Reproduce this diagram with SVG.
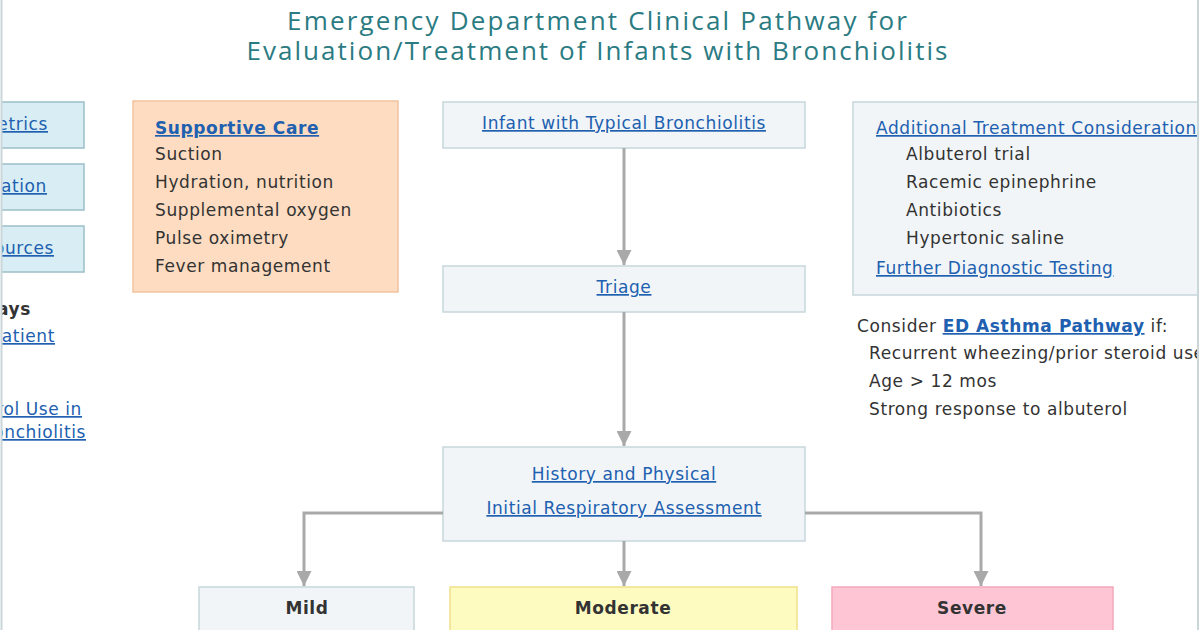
<svg xmlns="http://www.w3.org/2000/svg" width="1200" height="630" viewBox="0 0 1200 630">
<style>
.t{font-family:"DejaVu Sans","Liberation Sans",sans-serif;font-size:17px;letter-spacing:0.6px;fill:#333}
.lk{fill:#2060b0;text-decoration:underline}
.b{font-weight:bold}
.c{text-anchor:middle}
.ttl{font-family:"Open Sans","Liberation Sans",sans-serif;font-size:26px;fill:#2b7b82;text-anchor:middle}
.gray{fill:#f2f5f7;stroke:#c6d6dc;stroke-width:1.5}
.blue{fill:#d9eef4;stroke:#9cbfc7;stroke-width:1.5}
.conn{fill:none;stroke:#a9a9a9;stroke-width:3}
</style>
<defs>
<marker id="ah" viewBox="0 0 10 10" refX="10" refY="5" markerWidth="5" markerHeight="5" markerUnits="strokeWidth" orient="auto">
<path d="M0,0 L10,5 L0,10 z" fill="#a9a9a9"/>
</marker>
<clipPath id="pg"><rect x="2" y="0" width="1195" height="630"/></clipPath>
</defs>
<rect width="1200" height="630" fill="#ffffff"/>
<g clip-path="url(#pg)">
<g id="title">
<text class="ttl" x="597" y="30" textLength="620" lengthAdjust="spacing">Emergency Department Clinical Pathway for</text>
<text class="ttl" x="597" y="60" textLength="701" lengthAdjust="spacing">Evaluation/Treatment of Infants with Bronchiolitis</text>
</g>
<g id="left-links">
<rect class="blue" x="-20" y="102" width="104" height="46"/>
<text class="t lk" x="48" y="130" text-anchor="end">etrics</text>
<rect class="blue" x="-20" y="164" width="104" height="46"/>
<text class="t lk" x="47" y="192" text-anchor="end">ation</text>
<rect class="blue" x="-20" y="226" width="104" height="46"/>
<text class="t lk" x="54" y="254" text-anchor="end">ources</text>
<text class="t b" x="31" y="315" text-anchor="end">ays</text>
<text class="t lk" x="55" y="342" text-anchor="end">patient</text>
<text class="t lk" x="82" y="415" text-anchor="end">rol Use in</text>
<text class="t lk" x="86" y="438" text-anchor="end">onchiolitis</text>
</g>
<g id="supportive-care">
<rect x="133" y="101" width="265" height="191" fill="#fddcc1" stroke="#f2c39f" stroke-width="1.5"/>
<text class="t lk b" x="155" y="134" fill="#1d4fa3">Supportive Care</text>
<text class="t" x="155" y="160">Suction</text>
<text class="t" x="155" y="188">Hydration, nutrition</text>
<text class="t" x="155" y="216">Supplemental oxygen</text>
<text class="t" x="155" y="244">Pulse oximetry</text>
<text class="t" x="155" y="272">Fever management</text>
</g>
<g id="infant">
<rect class="gray" x="443" y="102" width="362" height="46"/>
<text class="t lk c" x="624" y="129">Infant with Typical Bronchiolitis</text>
</g>
<g id="triage">
<rect class="gray" x="443" y="266" width="362" height="46"/>
<text class="t lk c" x="624" y="293">Triage</text>
</g>
<g id="history">
<rect class="gray" x="443" y="447" width="362" height="94"/>
<text class="t lk c" x="624" y="480">History and Physical</text>
<text class="t lk c" x="624" y="514">Initial Respiratory Assessment</text>
</g>
<g id="additional">
<rect class="gray" x="853" y="102" width="360" height="193"/>
<text class="t lk" x="876" y="134">Additional Treatment Considerations</text>
<text class="t" x="906" y="160">Albuterol trial</text>
<text class="t" x="906" y="188">Racemic epinephrine</text>
<text class="t" x="906" y="216">Antibiotics</text>
<text class="t" x="906" y="244">Hypertonic saline</text>
<text class="t lk" x="876" y="274">Further Diagnostic Testing</text>
</g>
<g id="asthma">
<text class="t" x="857" y="332">Consider <tspan class="lk b" fill="#1d4fa3">ED Asthma Pathway</tspan> if:</text>
<text class="t" x="869" y="359">Recurrent wheezing/prior steroid use</text>
<text class="t" x="869" y="387">Age &gt; 12 mos</text>
<text class="t" x="869" y="415">Strong response to albuterol</text>
</g>
<g id="mild">
<rect class="gray" x="199" y="587" width="215" height="60"/>
<text class="t b c" x="307" y="614">Mild</text>
</g>
<g id="moderate">
<rect x="450" y="587" width="347" height="60" fill="#fefbc1" stroke="#efe08c" stroke-width="1.5"/>
<text class="t b c" x="623" y="614">Moderate</text>
</g>
<g id="severe">
<rect x="832" y="587" width="281" height="60" fill="#fec6d5" stroke="#f3a9ba" stroke-width="1.5"/>
<text class="t b c" x="972" y="614">Severe</text>
</g>
<g id="connectors">
<path class="conn" d="M624,148 V265" marker-end="url(#ah)"/>
<path class="conn" d="M624,312 V446" marker-end="url(#ah)"/>
<path class="conn" d="M443,513 H304 V586" marker-end="url(#ah)"/>
<path class="conn" d="M624,541 V586" marker-end="url(#ah)"/>
<path class="conn" d="M805,513 H981 V586" marker-end="url(#ah)"/>
</g>
</g>
<line x1="1.5" y1="0" x2="1.5" y2="630" stroke="#c9d6da" stroke-width="2"/>
<line x1="1198" y1="0" x2="1198" y2="630" stroke="#c9d6da" stroke-width="2"/>
</svg>
